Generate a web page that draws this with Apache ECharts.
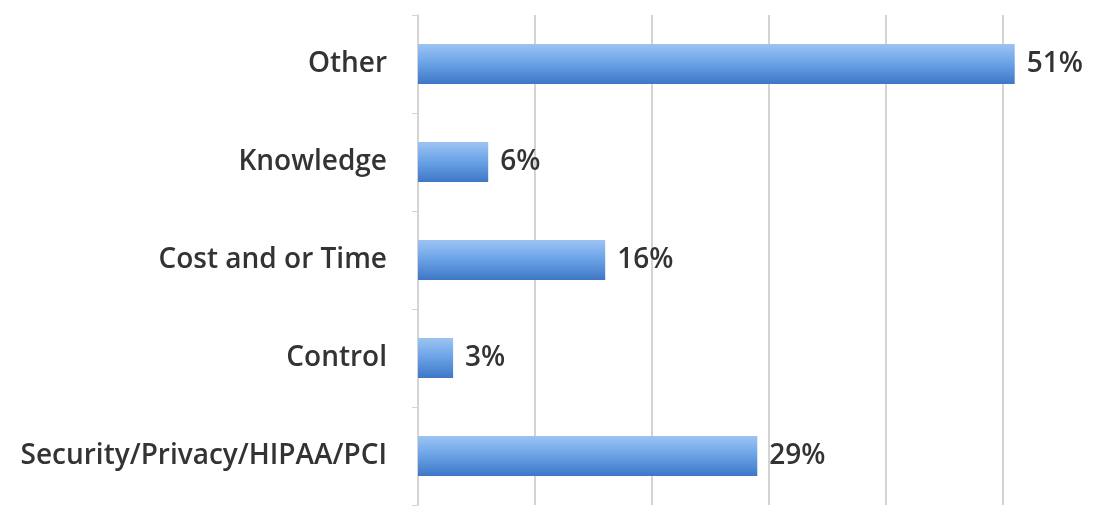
<!DOCTYPE html>
<html>
<head>
<meta charset="utf-8">
<script src="https://cdn.jsdelivr.net/npm/echarts@6/dist/echarts.min.js"></script>
<style>
  html, body { margin: 0; padding: 0; background: #fff; }
  #chart { width: 1105px; height: 507px; }
</style>
</head>
<body>
<div id="chart"></div>
<script>
// categories bottom to top, as on the chart
var categories = ["Security/Privacy/HIPAA/PCI", "Control", "Cost and or Time", "Knowledge", "Other"];
var values = [29, 3, 16, 6, 51];

var chart = echarts.init(document.getElementById("chart"));

var barColor = new echarts.graphic.LinearGradient(0, 0, 0, 1, [
  { offset: 0, color: "#9cc4f2" },
  { offset: 0.45, color: "#6ea5e8" },
  { offset: 1, color: "#3d76c6" }
]);

chart.setOption({
  animation: false,
  grid: { left: 418, top: 15, width: 702, height: 490, outerBoundsMode: "none" },
  xAxis: {
    type: "value",
    min: 0,
    max: 60,
    interval: 10,
    axisLabel: { show: false },
    axisLine: { show: false },
    axisTick: { show: false },
    splitLine: { lineStyle: { color: "#c4c4c4", width: 1.5 } }
  },
  yAxis: {
    type: "category",
    data: categories,
    axisLine: { show: true, lineStyle: { color: "#d4d4d4", width: 1.5 } },
    axisTick: { show: true, length: 6, lineStyle: { color: "#d4d4d4" } },
    axisLabel: {
      color: "#333",
      fontFamily: "Open Sans",
      fontWeight: 600,
      fontSize: 28,
      margin: 31
    }
  },
  series: [{
    type: "bar",
    data: values,
    barWidth: "41%",
    itemStyle: { color: barColor },
    label: {
      show: true,
      position: "right",
      distance: 12,
      formatter: "{c}%",
      color: "#333",
      fontFamily: "Open Sans",
      fontWeight: 600,
      fontSize: 28
    }
  }]
});
</script>
</body>
</html>
